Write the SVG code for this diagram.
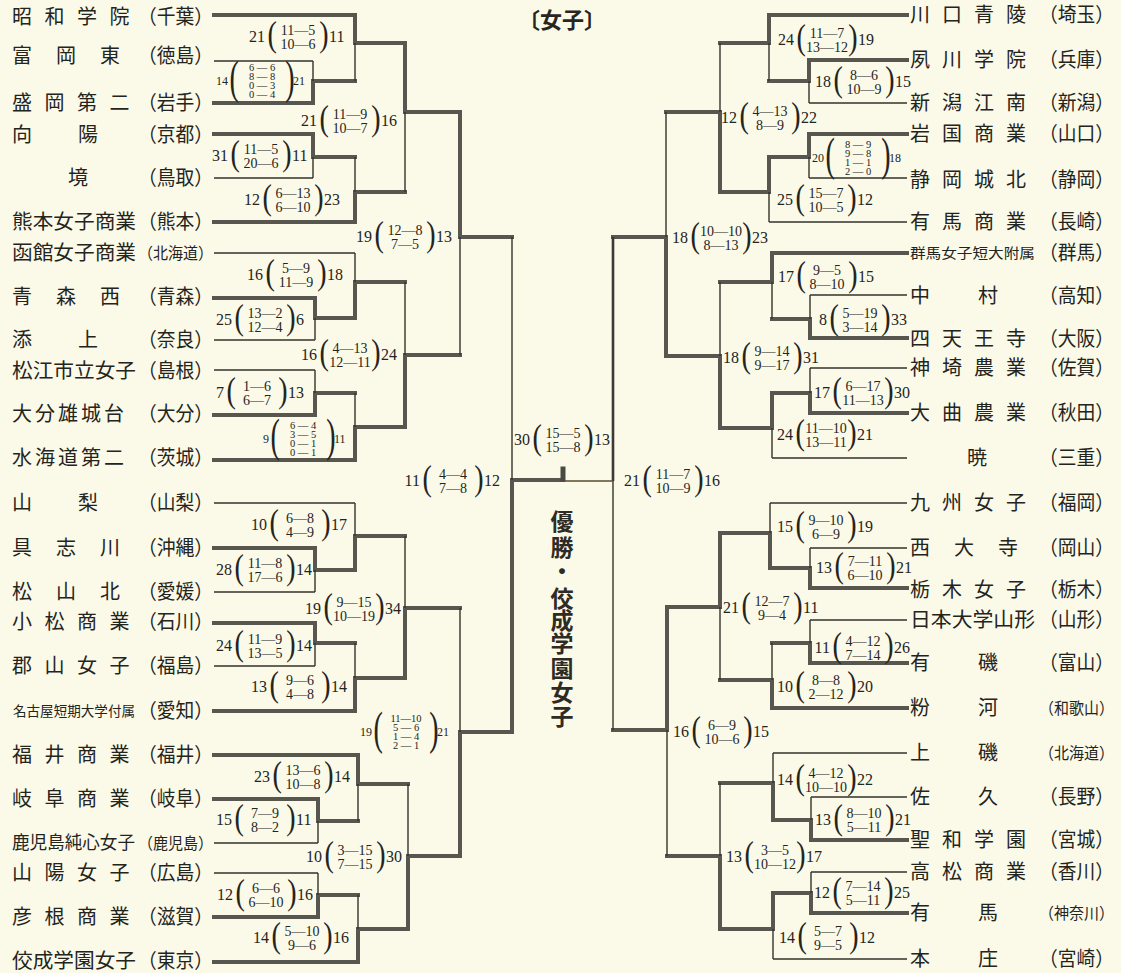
<svg xmlns="http://www.w3.org/2000/svg" xmlns:xlink="http://www.w3.org/1999/xlink" width="1121" height="973" viewBox="0 0 1121 973">
<style>
.nm{font-family:"Noto Sans CJK JP","Noto Sans CJK SC",sans-serif;font-size:20px;fill:#24241e}
.sm{font-size:14px}
.s18{font-size:18px}
.s16{font-size:16px}
.ttl{font-family:"Noto Sans CJK JP","Noto Sans CJK SC",sans-serif;font-size:22px;font-weight:700;fill:#2a2520;text-anchor:middle}
.vt{font-family:"Noto Sans CJK JP","Noto Sans CJK SC",sans-serif;font-size:23px;font-weight:700;fill:#2e2a24;text-anchor:middle}
.n{font-family:"Liberation Serif",serif;font-size:16px;fill:#24241e}
.n4{font-family:"Liberation Serif",serif;font-size:12px;fill:#24241e}
.e{text-anchor:end}
.r{font-family:"Liberation Serif",serif;font-size:14px;fill:#24241e;text-anchor:middle}
.r4{font-family:"Liberation Serif",serif;font-size:10.5px;fill:#24241e;text-anchor:middle}
.p{font-family:"Liberation Serif",serif;font-size:28px;fill:#24241e}
.tk{stroke:#57574f;stroke-width:4;fill:none;stroke-linecap:square}
.md{stroke:#3a3a32;stroke-width:2.6;fill:none}
.th{stroke:#33332b;stroke-width:1.4;fill:none}
.tb{stroke:#5a4a30;stroke-width:1.4;fill:none}
</style>
<defs>
<text id="pl2" class="p" transform="scale(1,1.25)" y="7">(</text>
<text id="pr2" class="p" transform="scale(1,1.25)" y="7">)</text>
<text id="pl4" class="p" transform="scale(1,1.65)" y="7">(</text>
<text id="pr4" class="p" transform="scale(1,1.65)" y="7">)</text>
</defs>
<rect x="0" y="0" width="1121" height="973" fill="#fbfae8"/>

<g id="title"><text class="ttl" x="562" y="28">〔女子〕</text></g>
<g id="champion"><text class="vt" x="562 562 562 562 562 562 562 562 562" y="530 556 580 607 629 652 677 701 725">優勝・佼成学園女子</text></g>

<g id="connectors">
<path class="tk" d="M214 15H355M214 103H313M313 81V103M313 81H355M355 15V43M355 43H405M214 134H313M313 134V157M313 157H355M214 222H355M355 192V222M355 192H405M405 43V112M405 112H460
M214 298H315M315 298V318M315 318H355M355 282V318M355 282H405M214 415H315M315 393V415M315 393H355M214 460H355M355 427V460M355 427H405M405 355V427M405 355H460M460 112V237M460 237H512
M214 548H315M315 548V570M315 570H355M355 536V570M355 536H405M214 623H315M315 623V643M315 643H355M214 711H355M355 678V711M355 678H405M405 608V678M405 608H460
M214 755H358M358 755V784M358 784H408M214 799H318M318 799V821M318 821H358M214 917H318M318 895V917M318 895H358M214 962H358M358 929V962M358 929H408M408 856V929M408 856H460M460 732V856M460 732H512
M512 480V732M512 480H563
M613 237H666M666 237V356M666 112H720M720 112V192M720 43H769M769 15H907M769 15V43M769 81H809M809 60H907M809 60V81M720 192H769M769 157V192M769 157H809M809 134H907M809 134V157
M666 356H720M720 356V428M720 282H772M772 253H907M772 253V282M772 319H810M810 338H907M810 319V338M720 428H772M772 393V428M772 393H810M810 413H907M810 393V413
M613 730H667M667 607V730M667 607H720M720 533V607M720 533H770M770 533V568M770 568H810M810 588H907M810 568V588M720 680H772M772 680V708M772 708H907M772 643H810M810 663H907M810 643V663
M667 856H720M720 856V929M720 783H773M773 783V820M773 820H811M811 840H907M811 820V840M720 929H773M773 893V929M773 893H811M811 913H907M811 893V913"/>
<path class="tk" d="M563 469V479" style="stroke-width:5;stroke:#4a4a44"/>
<path class="md" d="M613 237V481"/>
<path class="th" d="M214 61H313M313 61V81M355 43V81M214 178H313M313 157V178M355 157V192M405 112V192
M214 253H355M355 253V282M214 340H315M315 318V340M214 370H315M315 370V393M355 393V427M405 282V355M460 237V355
M214 503H355M355 503V536M214 592H315M315 570V592M214 666H315M315 643V666M355 643V678M405 536V608
M214 843H318M318 821V843M358 784V821M214 873H318M318 873V895M358 895V929M408 784V856M460 608V732
M512 237V480M613 481V730
M666 112V237M720 43V112M769 43V81M809 103H907M809 81V103M809 178H907M809 157V178M769 222H907M769 192V222
M720 282V356M772 282V319M810 295H907M810 295V319M810 368H907M810 368V393M772 458H907M772 428V458
M667 730V856M720 607V680M770 503H907M770 503V533M810 548H907M810 548V568M772 643V680M810 620H907M810 620V643
M720 783V856M773 753H907M773 753V783M811 797H907M811 797V820M811 872H907M811 872V893M773 929V959M773 959H907"/>
<path class="tb" d="M563 481H613"/>
</g>

<g id="teams-left">
<g id="L01"><text class="nm" x="12 44.5 77 109.5" y="24">昭和学院</text><text class="nm" x="138" y="24" textLength="75" lengthAdjust="spacingAndGlyphs">（千葉）</text></g>
<g id="L02"><text class="nm" x="12 56 100" y="63">富岡東</text><text class="nm" x="138" y="63" textLength="75" lengthAdjust="spacingAndGlyphs">（徳島）</text></g>
<g id="L03"><text class="nm" x="12 44.5 77 109.5" y="110">盛岡第二</text><text class="nm" x="138" y="110" textLength="75" lengthAdjust="spacingAndGlyphs">（岩手）</text></g>
<g id="L04"><text class="nm" x="12 78" y="142">向陽</text><text class="nm" x="138" y="142" textLength="75" lengthAdjust="spacingAndGlyphs">（京都）</text></g>
<g id="L05"><text class="nm" x="68" y="185">境</text><text class="nm" x="138" y="185" textLength="75" lengthAdjust="spacingAndGlyphs">（鳥取）</text></g>
<g id="L06"><text class="nm" x="12" y="229" textLength="124" lengthAdjust="spacingAndGlyphs">熊本女子商業</text><text class="nm" x="138" y="229" textLength="75" lengthAdjust="spacingAndGlyphs">（熊本）</text></g>
<g id="L07"><text class="nm" x="12" y="260" textLength="124" lengthAdjust="spacingAndGlyphs">函館女子商業</text><text class="nm s16" x="138" y="259" textLength="75" lengthAdjust="spacingAndGlyphs">（北海道）</text></g>
<g id="L08"><text class="nm" x="12 56 100" y="304">青森西</text><text class="nm" x="138" y="304" textLength="75" lengthAdjust="spacingAndGlyphs">（青森）</text></g>
<g id="L09"><text class="nm" x="12 78" y="347">添上</text><text class="nm" x="138" y="347" textLength="75" lengthAdjust="spacingAndGlyphs">（奈良）</text></g>
<g id="L10"><text class="nm" x="12" y="378" textLength="124" lengthAdjust="spacingAndGlyphs">松江市立女子</text><text class="nm" x="138" y="378" textLength="75" lengthAdjust="spacingAndGlyphs">（島根）</text></g>
<g id="L11"><text class="nm" x="12 35 58 81 104" y="421">大分雄城台</text><text class="nm" x="138" y="421" textLength="75" lengthAdjust="spacingAndGlyphs">（大分）</text></g>
<g id="L12"><text class="nm" x="12 35 58 81 104" y="465">水海道第二</text><text class="nm" x="138" y="465" textLength="75" lengthAdjust="spacingAndGlyphs">（茨城）</text></g>
<g id="L13"><text class="nm" x="12 78" y="510">山梨</text><text class="nm" x="138" y="510" textLength="75" lengthAdjust="spacingAndGlyphs">（山梨）</text></g>
<g id="L14"><text class="nm" x="12 56 100" y="555">具志川</text><text class="nm" x="138" y="555" textLength="75" lengthAdjust="spacingAndGlyphs">（沖縄）</text></g>
<g id="L15"><text class="nm" x="12 56 100" y="599">松山北</text><text class="nm" x="138" y="599" textLength="75" lengthAdjust="spacingAndGlyphs">（愛媛）</text></g>
<g id="L16"><text class="nm" x="12 44.5 77 109.5" y="629">小松商業</text><text class="nm" x="138" y="629" textLength="75" lengthAdjust="spacingAndGlyphs">（石川）</text></g>
<g id="L17"><text class="nm" x="12 44.5 77 109.5" y="673">郡山女子</text><text class="nm" x="138" y="673" textLength="75" lengthAdjust="spacingAndGlyphs">（福島）</text></g>
<g id="L18"><text class="nm sm" x="13" y="716" textLength="122" lengthAdjust="spacingAndGlyphs">名古屋短期大学付属</text><text class="nm" x="138" y="718" textLength="75" lengthAdjust="spacingAndGlyphs">（愛知）</text></g>
<g id="L19"><text class="nm" x="12 44.5 77 109.5" y="762">福井商業</text><text class="nm" x="138" y="762" textLength="75" lengthAdjust="spacingAndGlyphs">（福井）</text></g>
<g id="L20"><text class="nm" x="12 44.5 77 109.5" y="806">岐阜商業</text><text class="nm" x="138" y="806" textLength="75" lengthAdjust="spacingAndGlyphs">（岐阜）</text></g>
<g id="L21"><text class="nm s18" x="12" y="849" textLength="123" lengthAdjust="spacingAndGlyphs">鹿児島純心女子</text><text class="nm s16" x="138" y="849" textLength="75" lengthAdjust="spacingAndGlyphs">（鹿児島）</text></g>
<g id="L22"><text class="nm" x="12 44.5 77 109.5" y="880">山陽女子</text><text class="nm" x="138" y="880" textLength="75" lengthAdjust="spacingAndGlyphs">（広島）</text></g>
<g id="L23"><text class="nm" x="12 44.5 77 109.5" y="924">彦根商業</text><text class="nm" x="138" y="924" textLength="75" lengthAdjust="spacingAndGlyphs">（滋賀）</text></g>
<g id="L24"><text class="nm" x="12" y="968" textLength="124" lengthAdjust="spacingAndGlyphs">佼成学園女子</text><text class="nm" x="138" y="968" textLength="75" lengthAdjust="spacingAndGlyphs">（東京）</text></g>
</g>

<g id="teams-right">
<g id="R01"><text class="nm" x="910 942 974 1006" y="22">川口青陵</text><text class="nm" x="1039" y="22" textLength="75" lengthAdjust="spacingAndGlyphs">（埼玉）</text></g>
<g id="R02"><text class="nm" x="910 942 974 1006" y="67">夙川学院</text><text class="nm" x="1039" y="67" textLength="75" lengthAdjust="spacingAndGlyphs">（兵庫）</text></g>
<g id="R03"><text class="nm" x="910 942 974 1006" y="110">新潟江南</text><text class="nm" x="1039" y="110" textLength="75" lengthAdjust="spacingAndGlyphs">（新潟）</text></g>
<g id="R04"><text class="nm" x="910 942 974 1006" y="141">岩国商業</text><text class="nm" x="1039" y="141" textLength="75" lengthAdjust="spacingAndGlyphs">（山口）</text></g>
<g id="R05"><text class="nm" x="910 942 974 1006" y="187">静岡城北</text><text class="nm" x="1039" y="187" textLength="75" lengthAdjust="spacingAndGlyphs">（静岡）</text></g>
<g id="R06"><text class="nm" x="910 942 974 1006" y="229">有馬商業</text><text class="nm" x="1039" y="229" textLength="75" lengthAdjust="spacingAndGlyphs">（長崎）</text></g>
<g id="R07"><text class="nm sm" x="910" y="258" textLength="125" lengthAdjust="spacingAndGlyphs">群馬女子短大附属</text><text class="nm" x="1039" y="260" textLength="75" lengthAdjust="spacingAndGlyphs">（群馬）</text></g>
<g id="R08"><text class="nm" x="910 978" y="303">中村</text><text class="nm" x="1039" y="303" textLength="75" lengthAdjust="spacingAndGlyphs">（高知）</text></g>
<g id="R09"><text class="nm" x="910 942 974 1006" y="346">四天王寺</text><text class="nm" x="1039" y="346" textLength="75" lengthAdjust="spacingAndGlyphs">（大阪）</text></g>
<g id="R10"><text class="nm" x="910 942 974 1006" y="375">神埼農業</text><text class="nm" x="1039" y="375" textLength="75" lengthAdjust="spacingAndGlyphs">（佐賀）</text></g>
<g id="R11"><text class="nm" x="910 942 974 1006" y="420">大曲農業</text><text class="nm" x="1039" y="420" textLength="75" lengthAdjust="spacingAndGlyphs">（秋田）</text></g>
<g id="R12"><text class="nm" x="967" y="465">暁</text><text class="nm" x="1039" y="465" textLength="75" lengthAdjust="spacingAndGlyphs">（三重）</text></g>
<g id="R13"><text class="nm" x="910 942 974 1006" y="510">九州女子</text><text class="nm" x="1039" y="510" textLength="75" lengthAdjust="spacingAndGlyphs">（福岡）</text></g>
<g id="R14"><text class="nm" x="910 954 998" y="555">西大寺</text><text class="nm" x="1039" y="555" textLength="75" lengthAdjust="spacingAndGlyphs">（岡山）</text></g>
<g id="R15"><text class="nm" x="910 942 974 1006" y="597">栃木女子</text><text class="nm" x="1039" y="597" textLength="75" lengthAdjust="spacingAndGlyphs">（栃木）</text></g>
<g id="R16"><text class="nm" x="910" y="627" textLength="125" lengthAdjust="spacingAndGlyphs">日本大学山形</text><text class="nm" x="1039" y="627" textLength="75" lengthAdjust="spacingAndGlyphs">（山形）</text></g>
<g id="R17"><text class="nm" x="910 978" y="670">有磯</text><text class="nm" x="1039" y="670" textLength="75" lengthAdjust="spacingAndGlyphs">（富山）</text></g>
<g id="R18"><text class="nm" x="910 978" y="715">粉河</text><text class="nm s16" x="1039" y="714" textLength="75" lengthAdjust="spacingAndGlyphs">（和歌山）</text></g>
<g id="R19"><text class="nm" x="910 978" y="760">上磯</text><text class="nm s16" x="1039" y="759" textLength="75" lengthAdjust="spacingAndGlyphs">（北海道）</text></g>
<g id="R20"><text class="nm" x="910 978" y="804">佐久</text><text class="nm" x="1039" y="804" textLength="75" lengthAdjust="spacingAndGlyphs">（長野）</text></g>
<g id="R21"><text class="nm" x="910 942 974 1006" y="847">聖和学園</text><text class="nm" x="1039" y="847" textLength="75" lengthAdjust="spacingAndGlyphs">（宮城）</text></g>
<g id="R22"><text class="nm" x="910 942 974 1006" y="879">高松商業</text><text class="nm" x="1039" y="879" textLength="75" lengthAdjust="spacingAndGlyphs">（香川）</text></g>
<g id="R23"><text class="nm" x="910 978" y="920">有馬</text><text class="nm s16" x="1039" y="919" textLength="75" lengthAdjust="spacingAndGlyphs">（神奈川）</text></g>
<g id="R24"><text class="nm" x="910 978" y="966">本庄</text><text class="nm" x="1039" y="966" textLength="75" lengthAdjust="spacingAndGlyphs">（宮崎）</text></g>
</g>

<g id="scores">
<g id="S01" transform="translate(298,37)"><text class="n e" x="-33" y="5.3">21</text><use href="#pl2" x="-30.5"/><text class="r" y="-2.4">11—5</text><text class="r" y="11.6">10—6</text><use href="#pr2" x="21.2"/><text class="n" x="31" y="5.3">11</text></g>
<g id="S02" transform="translate(262,81)"><text class="n4 e" x="-34" y="4">14</text><use href="#pl4" x="-32.5"/><text class="r4" y="-10">6 — 6</text><text class="r4" y="-1">8 — 8</text><text class="r4" y="8">0 — 3</text><text class="r4" y="17">0 — 4</text><use href="#pr4" x="23.2"/><text class="n4" x="31" y="4">21</text></g>
<g id="S03" transform="translate(350,121)"><text class="n e" x="-33" y="5.3">21</text><use href="#pl2" x="-30.5"/><text class="r" y="-2.4">11—9</text><text class="r" y="11.6">10—7</text><use href="#pr2" x="21.2"/><text class="n" x="31" y="5.3">16</text></g>
<g id="S04" transform="translate(261,156)"><text class="n e" x="-33" y="5.3">31</text><use href="#pl2" x="-30.5"/><text class="r" y="-2.4">11—5</text><text class="r" y="11.6">20—6</text><use href="#pr2" x="21.2"/><text class="n" x="31" y="5.3">11</text></g>
<g id="S05" transform="translate(293,200)"><text class="n e" x="-33" y="5.3">12</text><use href="#pl2" x="-30.5"/><text class="r" y="-2.4">6—13</text><text class="r" y="11.6">6—10</text><use href="#pr2" x="21.2"/><text class="n" x="31" y="5.3">23</text></g>
<g id="S06" transform="translate(405,237)"><text class="n e" x="-33" y="5.3">19</text><use href="#pl2" x="-30.5"/><text class="r" y="-2.4">12—8</text><text class="r" y="11.6">7—5</text><use href="#pr2" x="21.2"/><text class="n" x="31" y="5.3">13</text></g>
<g id="S07" transform="translate(296,275)"><text class="n e" x="-33" y="5.3">16</text><use href="#pl2" x="-30.5"/><text class="r" y="-2.4">5—9</text><text class="r" y="11.6">11—9</text><use href="#pr2" x="21.2"/><text class="n" x="31" y="5.3">18</text></g>
<g id="S08" transform="translate(265,320)"><text class="n e" x="-33" y="5.3">25</text><use href="#pl2" x="-30.5"/><text class="r" y="-2.4">13—2</text><text class="r" y="11.6">12—4</text><use href="#pr2" x="21.2"/><text class="n" x="31" y="5.3">6</text></g>
<g id="S09" transform="translate(350,355)"><text class="n e" x="-33" y="5.3">16</text><use href="#pl2" x="-30.5"/><text class="r" y="-2.4">4—13</text><text class="r" y="11.6">12—11</text><use href="#pr2" x="21.2"/><text class="n" x="31" y="5.3">24</text></g>
<g id="S10" transform="translate(257,393)"><text class="n e" x="-33" y="5.3">7</text><use href="#pl2" x="-30.5"/><text class="r" y="-2.4">1—6</text><text class="r" y="11.6">6—7</text><use href="#pr2" x="21.2"/><text class="n" x="31" y="5.3">13</text></g>
<g id="S11" transform="translate(303,439)"><text class="n4 e" x="-34" y="4">9</text><use href="#pl4" x="-32.5"/><text class="r4" y="-10">6 — 4</text><text class="r4" y="-1">3 — 5</text><text class="r4" y="8">0 — 1</text><text class="r4" y="17">0 — 1</text><use href="#pr4" x="23.2"/><text class="n4" x="31" y="4">11</text></g>
<g id="S12" transform="translate(453,481)"><text class="n e" x="-33" y="5.3">11</text><use href="#pl2" x="-30.5"/><text class="r" y="-2.4">4—4</text><text class="r" y="11.6">7—8</text><use href="#pr2" x="21.2"/><text class="n" x="31" y="5.3">12</text></g>
<g id="S13" transform="translate(300,525)"><text class="n e" x="-33" y="5.3">10</text><use href="#pl2" x="-30.5"/><text class="r" y="-2.4">6—8</text><text class="r" y="11.6">4—9</text><use href="#pr2" x="21.2"/><text class="n" x="31" y="5.3">17</text></g>
<g id="S14" transform="translate(265,570)"><text class="n e" x="-33" y="5.3">28</text><use href="#pl2" x="-30.5"/><text class="r" y="-2.4">11—8</text><text class="r" y="11.6">17—6</text><use href="#pr2" x="21.2"/><text class="n" x="31" y="5.3">14</text></g>
<g id="S15" transform="translate(354,609)"><text class="n e" x="-33" y="5.3">19</text><use href="#pl2" x="-30.5"/><text class="r" y="-2.4">9—15</text><text class="r" y="11.6">10—19</text><use href="#pr2" x="21.2"/><text class="n" x="31" y="5.3">34</text></g>
<g id="S16" transform="translate(265,646)"><text class="n e" x="-33" y="5.3">24</text><use href="#pl2" x="-30.5"/><text class="r" y="-2.4">11—9</text><text class="r" y="11.6">13—5</text><use href="#pr2" x="21.2"/><text class="n" x="31" y="5.3">14</text></g>
<g id="S17" transform="translate(300,687)"><text class="n e" x="-33" y="5.3">13</text><use href="#pl2" x="-30.5"/><text class="r" y="-2.4">9—6</text><text class="r" y="11.6">4—8</text><use href="#pr2" x="21.2"/><text class="n" x="31" y="5.3">14</text></g>
<g id="S18" transform="translate(406,732)"><text class="n4 e" x="-34" y="4">19</text><use href="#pl4" x="-32.5"/><text class="r4" y="-10">11—10</text><text class="r4" y="-1">5 — 6</text><text class="r4" y="8">1 — 4</text><text class="r4" y="17">2 — 1</text><use href="#pr4" x="23.2"/><text class="n4" x="31" y="4">21</text></g>
<g id="S19" transform="translate(303,777)"><text class="n e" x="-33" y="5.3">23</text><use href="#pl2" x="-30.5"/><text class="r" y="-2.4">13—6</text><text class="r" y="11.6">10—8</text><use href="#pr2" x="21.2"/><text class="n" x="31" y="5.3">14</text></g>
<g id="S20" transform="translate(265,820)"><text class="n e" x="-33" y="5.3">15</text><use href="#pl2" x="-30.5"/><text class="r" y="-2.4">7—9</text><text class="r" y="11.6">8—2</text><use href="#pr2" x="21.2"/><text class="n" x="31" y="5.3">11</text></g>
<g id="S21" transform="translate(355,857)"><text class="n e" x="-33" y="5.3">10</text><use href="#pl2" x="-30.5"/><text class="r" y="-2.4">3—15</text><text class="r" y="11.6">7—15</text><use href="#pr2" x="21.2"/><text class="n" x="31" y="5.3">30</text></g>
<g id="S22" transform="translate(266,895)"><text class="n e" x="-33" y="5.3">12</text><use href="#pl2" x="-30.5"/><text class="r" y="-2.4">6—6</text><text class="r" y="11.6">6—10</text><use href="#pr2" x="21.2"/><text class="n" x="31" y="5.3">16</text></g>
<g id="S23" transform="translate(302,938)"><text class="n e" x="-33" y="5.3">14</text><use href="#pl2" x="-30.5"/><text class="r" y="-2.4">5—10</text><text class="r" y="11.6">9—6</text><use href="#pr2" x="21.2"/><text class="n" x="31" y="5.3">16</text></g>
<g id="S24" transform="translate(563,440)"><text class="n e" x="-33" y="5.3">30</text><use href="#pl2" x="-30.5"/><text class="r" y="-2.4">15—5</text><text class="r" y="11.6">15—8</text><use href="#pr2" x="21.2"/><text class="n" x="31" y="5.3">13</text></g>
<g id="S25" transform="translate(827,40)"><text class="n e" x="-33" y="5.3">24</text><use href="#pl2" x="-30.5"/><text class="r" y="-2.4">11—7</text><text class="r" y="11.6">13—12</text><use href="#pr2" x="21.2"/><text class="n" x="31" y="5.3">19</text></g>
<g id="S26" transform="translate(864,82)"><text class="n e" x="-33" y="5.3">18</text><use href="#pl2" x="-30.5"/><text class="r" y="-2.4">8—6</text><text class="r" y="11.6">10—9</text><use href="#pr2" x="21.2"/><text class="n" x="31" y="5.3">15</text></g>
<g id="S27" transform="translate(770,118)"><text class="n e" x="-33" y="5.3">12</text><use href="#pl2" x="-30.5"/><text class="r" y="-2.4">4—13</text><text class="r" y="11.6">8—9</text><use href="#pr2" x="21.2"/><text class="n" x="31" y="5.3">22</text></g>
<g id="S28" transform="translate(858,158)"><text class="n4 e" x="-34" y="4">20</text><use href="#pl4" x="-32.5"/><text class="r4" y="-10">8 — 9</text><text class="r4" y="-1">9 — 8</text><text class="r4" y="8">1 — 1</text><text class="r4" y="17">2 — 0</text><use href="#pr4" x="23.2"/><text class="n4" x="31" y="4">18</text></g>
<g id="S29" transform="translate(826,200)"><text class="n e" x="-33" y="5.3">25</text><use href="#pl2" x="-30.5"/><text class="r" y="-2.4">15—7</text><text class="r" y="11.6">10—5</text><use href="#pr2" x="21.2"/><text class="n" x="31" y="5.3">12</text></g>
<g id="S30" transform="translate(721,238)"><text class="n e" x="-33" y="5.3">18</text><use href="#pl2" x="-30.5"/><text class="r" y="-2.4">10—10</text><text class="r" y="11.6">8—13</text><use href="#pr2" x="21.2"/><text class="n" x="31" y="5.3">23</text></g>
<g id="S31" transform="translate(827,277)"><text class="n e" x="-33" y="5.3">17</text><use href="#pl2" x="-30.5"/><text class="r" y="-2.4">9—5</text><text class="r" y="11.6">8—10</text><use href="#pr2" x="21.2"/><text class="n" x="31" y="5.3">15</text></g>
<g id="S32" transform="translate(860,320)"><text class="n e" x="-33" y="5.3">8</text><use href="#pl2" x="-30.5"/><text class="r" y="-2.4">5—19</text><text class="r" y="11.6">3—14</text><use href="#pr2" x="21.2"/><text class="n" x="31" y="5.3">33</text></g>
<g id="S33" transform="translate(772,358)"><text class="n e" x="-33" y="5.3">18</text><use href="#pl2" x="-30.5"/><text class="r" y="-2.4">9—14</text><text class="r" y="11.6">9—17</text><use href="#pr2" x="21.2"/><text class="n" x="31" y="5.3">31</text></g>
<g id="S34" transform="translate(863,393)"><text class="n e" x="-33" y="5.3">17</text><use href="#pl2" x="-30.5"/><text class="r" y="-2.4">6—17</text><text class="r" y="11.6">11—13</text><use href="#pr2" x="21.2"/><text class="n" x="31" y="5.3">30</text></g>
<g id="S35" transform="translate(826,435)"><text class="n e" x="-33" y="5.3">24</text><use href="#pl2" x="-30.5"/><text class="r" y="-2.4">11—10</text><text class="r" y="11.6">13—11</text><use href="#pr2" x="21.2"/><text class="n" x="31" y="5.3">21</text></g>
<g id="S36" transform="translate(673,481)"><text class="n e" x="-33" y="5.3">21</text><use href="#pl2" x="-30.5"/><text class="r" y="-2.4">11—7</text><text class="r" y="11.6">10—9</text><use href="#pr2" x="21.2"/><text class="n" x="31" y="5.3">16</text></g>
<g id="S37" transform="translate(826,527)"><text class="n e" x="-33" y="5.3">15</text><use href="#pl2" x="-30.5"/><text class="r" y="-2.4">9—10</text><text class="r" y="11.6">6—9</text><use href="#pr2" x="21.2"/><text class="n" x="31" y="5.3">19</text></g>
<g id="S38" transform="translate(865,568)"><text class="n e" x="-33" y="5.3">13</text><use href="#pl2" x="-30.5"/><text class="r" y="-2.4">7—11</text><text class="r" y="11.6">6—10</text><use href="#pr2" x="21.2"/><text class="n" x="31" y="5.3">21</text></g>
<g id="S39" transform="translate(772,608)"><text class="n e" x="-33" y="5.3">21</text><use href="#pl2" x="-30.5"/><text class="r" y="-2.4">12—7</text><text class="r" y="11.6">9—4</text><use href="#pr2" x="21.2"/><text class="n" x="31" y="5.3">11</text></g>
<g id="S40" transform="translate(863,648)"><text class="n e" x="-33" y="5.3">11</text><use href="#pl2" x="-30.5"/><text class="r" y="-2.4">4—12</text><text class="r" y="11.6">7—14</text><use href="#pr2" x="21.2"/><text class="n" x="31" y="5.3">26</text></g>
<g id="S41" transform="translate(826,687)"><text class="n e" x="-33" y="5.3">10</text><use href="#pl2" x="-30.5"/><text class="r" y="-2.4">8—8</text><text class="r" y="11.6">2—12</text><use href="#pr2" x="21.2"/><text class="n" x="31" y="5.3">20</text></g>
<g id="S42" transform="translate(722,732)"><text class="n e" x="-33" y="5.3">16</text><use href="#pl2" x="-30.5"/><text class="r" y="-2.4">6—9</text><text class="r" y="11.6">10—6</text><use href="#pr2" x="21.2"/><text class="n" x="31" y="5.3">15</text></g>
<g id="S43" transform="translate(826,780)"><text class="n e" x="-33" y="5.3">14</text><use href="#pl2" x="-30.5"/><text class="r" y="-2.4">4—12</text><text class="r" y="11.6">10—10</text><use href="#pr2" x="21.2"/><text class="n" x="31" y="5.3">22</text></g>
<g id="S44" transform="translate(864,820)"><text class="n e" x="-33" y="5.3">13</text><use href="#pl2" x="-30.5"/><text class="r" y="-2.4">8—10</text><text class="r" y="11.6">5—11</text><use href="#pr2" x="21.2"/><text class="n" x="31" y="5.3">21</text></g>
<g id="S45" transform="translate(775,857)"><text class="n e" x="-33" y="5.3">13</text><use href="#pl2" x="-30.5"/><text class="r" y="-2.4">3—5</text><text class="r" y="11.6">10—12</text><use href="#pr2" x="21.2"/><text class="n" x="31" y="5.3">17</text></g>
<g id="S46" transform="translate(863,893)"><text class="n e" x="-33" y="5.3">12</text><use href="#pl2" x="-30.5"/><text class="r" y="-2.4">7—14</text><text class="r" y="11.6">5—11</text><use href="#pr2" x="21.2"/><text class="n" x="31" y="5.3">25</text></g>
<g id="S47" transform="translate(828,938)"><text class="n e" x="-33" y="5.3">14</text><use href="#pl2" x="-30.5"/><text class="r" y="-2.4">5—7</text><text class="r" y="11.6">9—5</text><use href="#pr2" x="21.2"/><text class="n" x="31" y="5.3">12</text></g>
</g>
</svg>
